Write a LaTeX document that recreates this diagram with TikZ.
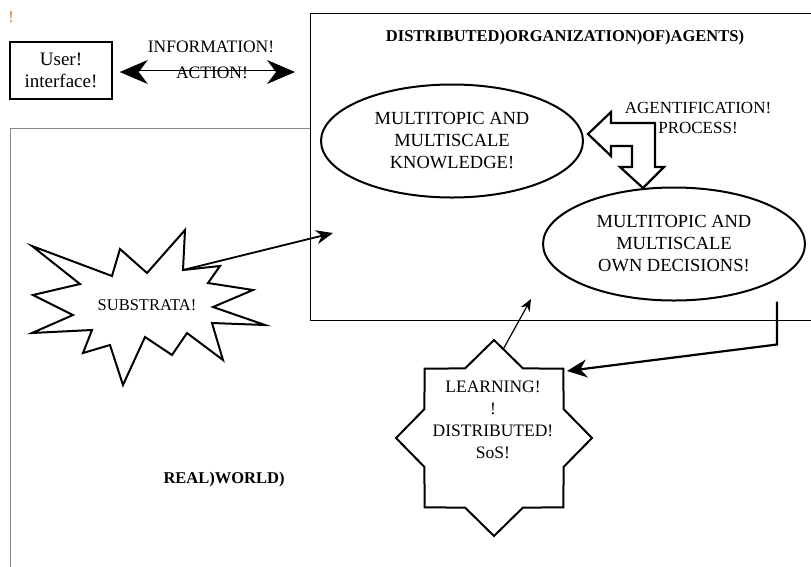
\documentclass[tikz,border=0pt]{standalone}
\usepackage{fontspec}
\setmainfont{Liberation Serif}
\usepackage{tikz}
\usetikzlibrary{arrows.meta,positioning,calc,shapes.geometric}
\definecolor{worldgray}{RGB}{135,135,135}
\definecolor{bangorange}{RGB}{205,125,45}
\newcommand{\diagfont}{\fontsize{16.5}{21.5}\selectfont}

\begin{document}
\begin{tikzpicture}[x=1pt, y=-1pt, >=Stealth, font=\diagfont,
    every node/.style={inner sep=0pt, align=center},
    bubble/.style={draw, ellipse, line width=2pt, minimum width=262pt, minimum height=113pt,
      font=\fontsize{18.5}{22}\selectfont},
    frame/.style={draw, line width=1.2pt, anchor=north west}]
  \useasboundingbox (0,0) rectangle (811,566);
  % the two worlds
  \node[frame, draw=worldgray, minimum width=830pt, minimum height=460pt] (world) at (10,128) {};
  \node[frame, fill=white, minimum width=520pt, minimum height=307pt] (org) at (310,13) {};
  \node[font=\diagfont\bfseries] (orgtitle) at (565,38) {DISTRIBUTED)ORGANIZATION)OF)AGENTS)};
  \node[font=\diagfont\bfseries] (worldtitle) at (224,480) {REAL)WORLD)};

  % user side
  \node[text=bangorange] (bang) at (11,17) {!};
  \node[draw, line width=1.5pt, minimum width=102pt, minimum height=57pt,
    font=\fontsize{19}{22}\selectfont] (ui) at (61,70.5) {User!\\interface!};
  \draw[line width=0.9pt, double distance=3pt, {Stealth[length=28pt,width=24pt,inset=9pt]}-{Stealth[length=28pt,width=24pt,inset=9pt]},
    shorten <=7pt, shorten >=15pt] ($(ui.east)+(0,1.5)$) -- ($(ui.east -| org.west)+(0,1.5)$);
  \node[font=\fontsize{17.5}{21}\selectfont] (info) at (211,47) {INFORMATION!};
  \node[font=\fontsize{17.5}{21}\selectfont] (action) at (212,73) {ACTION!};

  % agents
  \node[bubble] (know) at (452,141) {MULTITOPIC AND\\MULTISCALE\\KNOWLEDGE!};
  \node[bubble] (decide) at (674,244) {MULTITOPIC AND\\MULTISCALE\\OWN DECISIONS!};
  \draw[line width=2.2pt, line join=miter] (588,134) -- (611,112) -- (611,123) -- (655,123) -- (655,167)
    -- (664,167) -- (643,188) -- (620,167) -- (632,167) -- (632,146) -- (611,146) -- (611,156) -- cycle;
  \node[font=\fontsize{17}{20}\selectfont] (agentif) at (698,118) {AGENTIFICATION!\\PROCESS!};

  % substrata burst
  \draw[line width=2pt, line join=miter, fill=white] (32,246) -- (112,276) -- (120,249) -- (147,273) -- (185,230)
    -- (183,270) -- (220,266) -- (208,283) -- (253,290) -- (213,307) -- (265,325) -- (212,323)
    -- (223,360) -- (187,333) -- (172,355) -- (145,337) -- (123,385) -- (110,345) -- (83,353)
    -- (92,330) -- (32,333) -- (73,315) -- (33,295) -- (80,284) -- cycle;
  \node (substrata) at (147,305) {SUBSTRATA!};
  \coordinate (burstpt) at (183,270);
  \coordinate (orgin) at (333,233);
  \draw[line width=1.8pt, -{Stealth[length=17pt,width=14pt]}] (burstpt) -- (orgin);

  % learning star
  \node[draw, fill=white, star, star points=8, star point ratio=1.3, minimum size=196pt, line width=2pt] (sos) at (494,438) {};
  \node[font=\fontsize{17.5}{22}\selectfont] (sostext) at (493,420) {LEARNING!\\!\\DISTRIBUTED!\\SoS!};
  \coordinate (orgfoot) at (531,299);
  \draw[line width=1.2pt, -{Stealth[length=12pt,width=10pt]}] ($(sos.north)+(9,11)$) -- (orgfoot);
  \coordinate (decfoot) at ($(decide.south)+(103,0)$);
  \coordinate (sosneck) at ($(sos.center)+(73,-67)$);
  \draw[line width=2.2pt, line join=miter, -{Stealth[length=20pt,width=18pt]}] (decfoot) -- ++(0,43) -- (sosneck);
\end{tikzpicture}
\end{document}
